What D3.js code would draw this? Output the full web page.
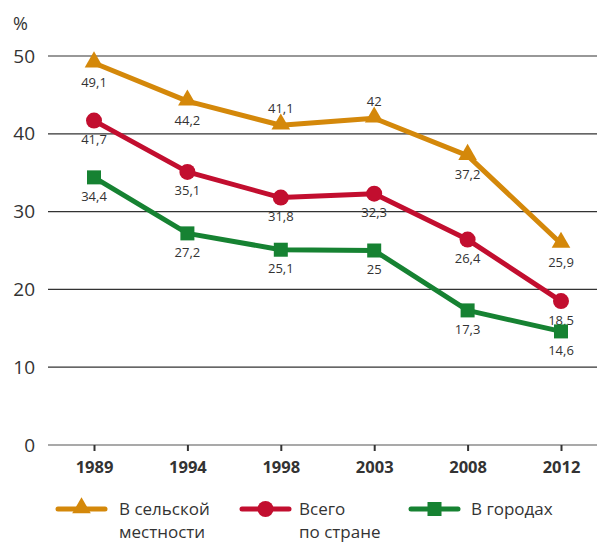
<!DOCTYPE html>
<html>
<head>
<meta charset="utf-8">
<script src="https://cdn.jsdelivr.net/npm/d3@7"></script>
<style>
  body { margin: 0; background: #fff; }
  text { font-family: "Open Sans", "Noto Sans", sans-serif; fill: #333; }
</style>
</head>
<body>
<div id="chart"></div>
<script>
/* Data */
var years = ["1989", "1994", "1998", "2003", "2008", "2012"];
var rural = [49.1, 44.2, 41.1, 42, 37.2, 25.9];
var total = [41.7, 35.1, 31.8, 32.3, 26.4, 18.5];
var urban = [34.4, 27.2, 25.1, 25, 17.3, 14.6];
var yTicks = [0, 10, 20, 30, 40, 50];

// label above the marker for these points (rural 1998, 2003)
var series = [
  { name: ["В сельской", "местности"], values: rural, color: "#d4880a", shape: "triangle", above: [false, false, true, true, false, false] },
  { name: ["Всего", "по стране"], values: total, color: "#c20e2f", shape: "circle", above: [false, false, false, false, false, false] },
  { name: ["В городах"], values: urban, color: "#168232", shape: "square", above: [false, false, false, false, false, false] }
];

var width = 597, height = 543;
var svg = d3.select("#chart").append("svg")
  .attr("width", width)
  .attr("height", height);

var x = d3.scalePoint().domain(years).range([94, 561]);
var y = d3.scaleLinear().domain([0, 50]).range([445, 56]);

// gridlines
svg.append("g").selectAll("line")
  .data(yTicks)
  .enter().append("line")
  .attr("x1", 48).attr("x2", 597)
  .attr("y1", d => y(d)).attr("y2", d => y(d))
  .attr("stroke", d => d == 0 ? "#555" : "#333")
  .attr("stroke-width", 1.2);

// y tick labels
svg.append("g").selectAll("text")
  .data(yTicks)
  .enter().append("text")
  .attr("x", 35).attr("y", d => y(d))
  .attr("dy", "0.35em")
  .attr("text-anchor", "end")
  .style("font-size", "19px")
  .text(d => d);

svg.append("text").attr("x", 13).attr("y", 30)
  .style("font-size", "18px").text("%");

// x axis ticks and labels
var xAxis = svg.append("g").attr("transform", "translate(0," + y(0) + ")")
  .call(d3.axisBottom(x).tickSize(6).tickPadding(10));
xAxis.select(".domain").remove();
xAxis.selectAll("line").attr("stroke", "#333").attr("stroke-width", 2);
xAxis.selectAll("text")
  .style("font-size", "16.5px")
  .style("font-weight", "bold")
  .style("font-family", "'Open Sans', sans-serif")
  .attr("fill", "#333");

var line = d3.line()
  .x((d, i) => x(years[i]))
  .y(d => y(d));

function drawMarker(g, shape, color, cx, cy) {
  if (shape == "triangle") {
    g.append("path")
      .attr("d", d3.symbol().type(d3.symbolTriangle).size(150)())
      .attr("transform", "translate(" + cx + "," + (cy - 1) + ")")
      .attr("fill", color);
  } else if (shape == "circle") {
    g.append("circle").attr("cx", cx).attr("cy", cy).attr("r", 8).attr("fill", color);
  } else {
    g.append("rect").attr("x", cx - 7).attr("y", cy - 7)
      .attr("width", 14).attr("height", 14).attr("fill", color);
  }
}

series.forEach(function (s) {
  var g = svg.append("g");
  g.append("path")
    .datum(s.values)
    .attr("d", line)
    .attr("fill", "none")
    .attr("stroke", s.color)
    .attr("stroke-width", 5)
    .attr("stroke-linejoin", "round");

  s.values.forEach(function (v, i) {
    drawMarker(g, s.shape, s.color, x(years[i]), y(v));
  });

  g.selectAll(".lbl")
    .data(s.values)
    .enter().append("text")
    .attr("class", "lbl")
    .attr("x", (d, i) => x(years[i]))
    .attr("y", (d, i) => s.above[i] ? y(d) - 17 : y(d) + 19)
    .attr("dy", "0.35em")
    .attr("text-anchor", "middle")
    .style("font-size", "13px")
    .text(d => String(d).replace(".", ","));
});

// legend
var legendX = [58, 242, 411];
var legendTextX = [61, 57, 60];
series.forEach(function (s, i) {
  var lg = svg.append("g").attr("transform", "translate(" + legendX[i] + ",509)");
  lg.append("line").attr("x1", 0).attr("x2", 47)
    .attr("stroke", s.color).attr("stroke-width", 5).attr("stroke-linecap", "round");
  drawMarker(lg, s.shape, s.color, 23.5, 0);
  lg.selectAll("text")
    .data(s.name)
    .enter().append("text")
    .attr("x", legendTextX[i])
    .attr("y", (d, j) => j * 23.5)
    .attr("dy", "0.35em")
    .style("font-size", "17px")
    .text(d => d);
});
</script>
</body>
</html>
